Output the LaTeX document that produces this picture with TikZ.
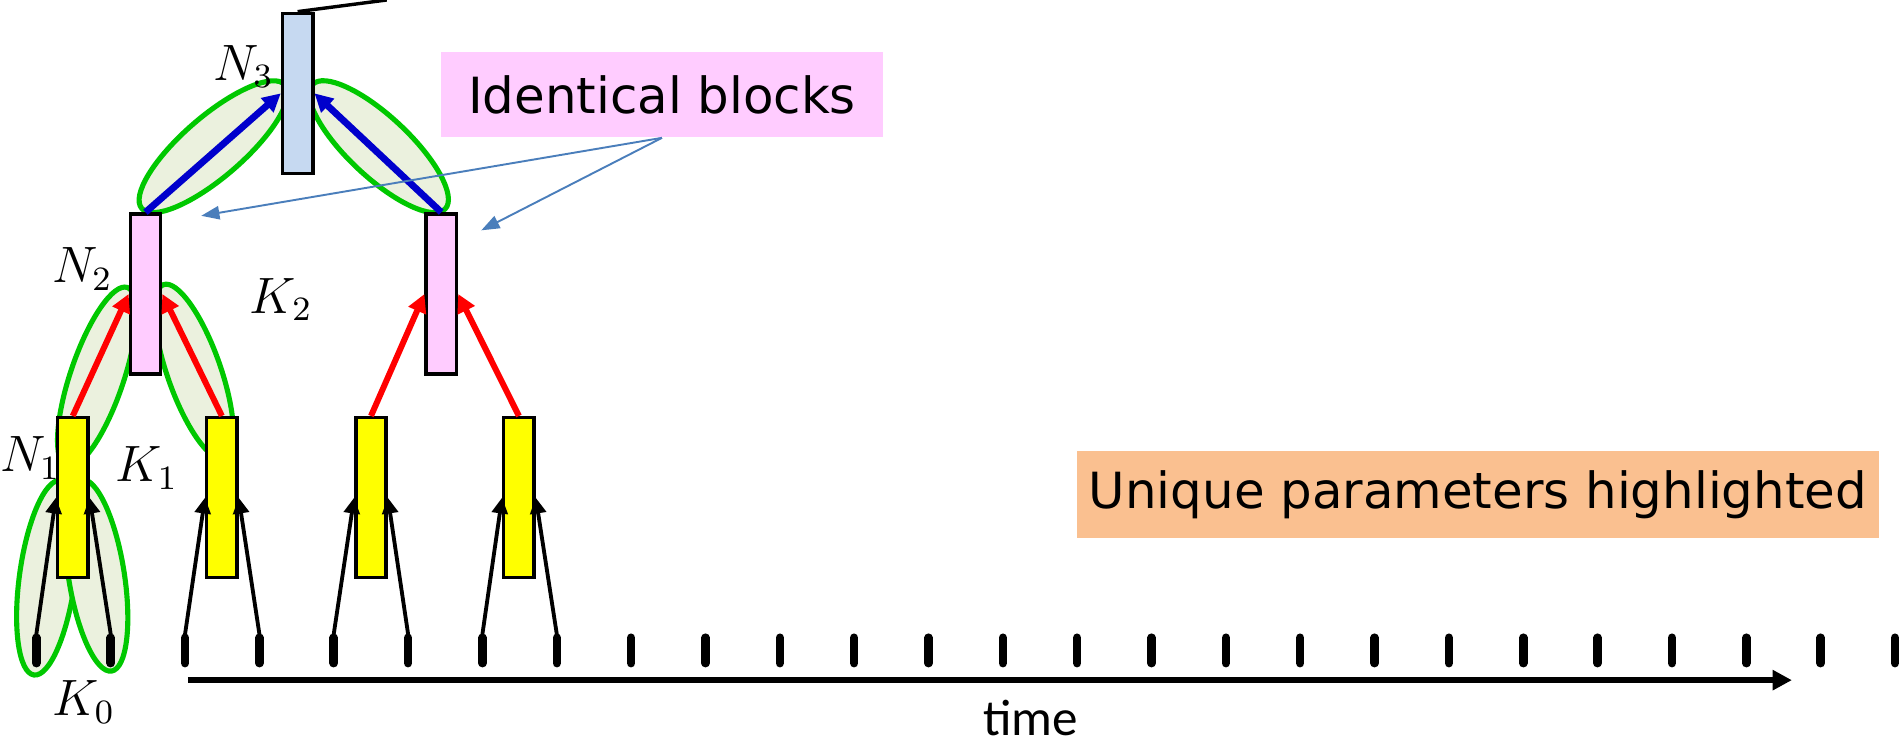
\documentclass[tikz,border=0pt]{standalone}
\usepackage{fontspec}
\newfontfamily\comicfont{DejaVu Sans}
\newfontfamily\calfont{Carlito}
\usetikzlibrary{arrows.meta}
\definecolor{yellowc}{HTML}{FFFF00}
\definecolor{pinkc}{HTML}{FFCCFF}
\definecolor{bluec}{HTML}{C6D9F1}
\definecolor{lobefill}{HTML}{EBF1DE}
\definecolor{lobeline}{HTML}{00C800}
\definecolor{arrblue}{HTML}{0000CC}
\definecolor{arrred}{HTML}{FF0000}
\definecolor{notec}{HTML}{4A7EBB}
\definecolor{orangebg}{HTML}{FAC090}
\newcommand{\lobe}[5]{\filldraw[lobe,rotate around={#3:(#1,#2)}] (#1,#2) ellipse (#4 and #5);}
\tikzset{
  block/.style={draw,line width=.8pt,inner sep=0pt,minimum width=.25cm,minimum height=1.32cm},
  yblock/.style={block,fill=yellowc},
  pblock/.style={block,fill=pinkc},
  nblock/.style={block,fill=bluec},
  lobe/.style={draw=lobeline,fill=lobefill,line width=1.2pt},
  feed/.style={line width=.9pt,-{Triangle[length=.13cm,width=.13cm]}},
  redarr/.style={arrred,line width=1.4pt,-{Triangle[length=.15cm,width=.15cm]}},
  bluearr/.style={arrblue,line width=1.6pt,-{Triangle[length=.15cm,width=.15cm]}},
  note/.style={notec,line width=.45pt,-{Triangle[length=.15cm,width=.11cm]}},
  tickmark/.style={line width=2pt,line cap=round},
  timeax/.style={line width=1.4pt,-{Triangle[length=.16cm,width=.16cm]}},
  tag/.style={font=\fontsize{12}{14}\selectfont,inner sep=0pt},
  callout/.style={font=\comicfont\fontsize{11.7}{14}\selectfont,inner sep=0pt}
}
\begin{document}
\begin{tikzpicture}
\useasboundingbox (0,0) rectangle (15.68,6.15);
% lobes behind the left tree
\lobe{0.39}{1.385}{82.2}{.81}{.23}
\lobe{0.795}{1.405}{99}{.80}{.23}
\lobe{0.80}{3.04}{71.3}{.78}{.22}
\lobe{1.60}{3.085}{109.3}{.76}{.22}
\lobe{1.76}{4.94}{40.8}{.78}{.25}
\lobe{3.125}{4.94}{136.9}{.75}{.25}
% blocks
\node[yblock] (Y1) at (0.60,2.045) {};
\node[yblock] (Y2) at (1.83,2.045) {};
\node[yblock] (Y3) at (3.06,2.045) {};
\node[yblock] (Y4) at (4.28,2.045) {};
\node[pblock] (P1) at (1.20,3.725) {};
\node[pblock] (P2) at (3.64,3.725) {};
\node[nblock] (N3) at (2.455,5.38) {};
\coordinate (lnk) at (3.19,6.15);
\draw[line width=.8pt] (N3.north) -- (lnk);
% time steps
\foreach \i in {0,...,25}{
  \coordinate (t\i) at (0.30+0.6132*\i,0.92);
  \draw[tickmark] (t\i) ++(0,-.03) -- ++(0,-.21);
}
\draw[feed] (t0) -- (Y1.west);\draw[feed] (t1) -- (Y1.east);
\draw[feed] (t2) -- (Y2.west);\draw[feed] (t3) -- (Y2.east);
\draw[feed] (t4) -- (Y3.west);\draw[feed] (t5) -- (Y3.east);
\draw[feed] (t6) -- (Y4.west);\draw[feed] (t7) -- (Y4.east);
\draw[redarr] (Y1.north) -- (P1.west);\draw[redarr] (Y2.north) -- (P1.east);
\draw[redarr] (Y3.north) -- (P2.west);\draw[redarr] (Y4.north) -- (P2.east);
\draw[bluearr] (P1.north) -- (N3.west);\draw[bluearr] (P2.north) -- (N3.east);
% labels
\node[tag] (lN3) at (2.01,5.60) {$N_3$};
\node[tag] (lN2) at (0.68,3.93) {$N_2$};
\node[tag] (lK2) at (2.32,3.68) {$K_2$};
\node[tag] (lN1) at (0.25,2.37) {$N_1$};
\node[tag] (lK1) at (1.21,2.29) {$K_1$};
\node[tag] (lK0) at (0.69,0.36) {$K_0$};
% callouts
\node[callout,fill=pinkc,minimum width=3.64cm,minimum height=.70cm] (idn) at (5.46,5.37) {Identical blocks};
\node[callout,fill=orangebg,minimum width=6.62cm,minimum height=.72cm] (uqn) at (12.19,2.07) {Unique parameters highlighted};
\coordinate (a1) at (1.66,4.37);\coordinate (a2) at (3.97,4.25);
\draw[note] (idn.south) -- (a1);\draw[note] (idn.south) -- (a2);
% time axis
\coordinate (ts) at (1.55,0.54);\coordinate (te) at (14.78,0.54);
\draw[timeax] (ts) -- (te);
\node[font=\calfont\fontsize{12}{14}\selectfont,inner sep=0pt] (tlab) at (8.50,0.23) {time};
\end{tikzpicture}
\end{document}
